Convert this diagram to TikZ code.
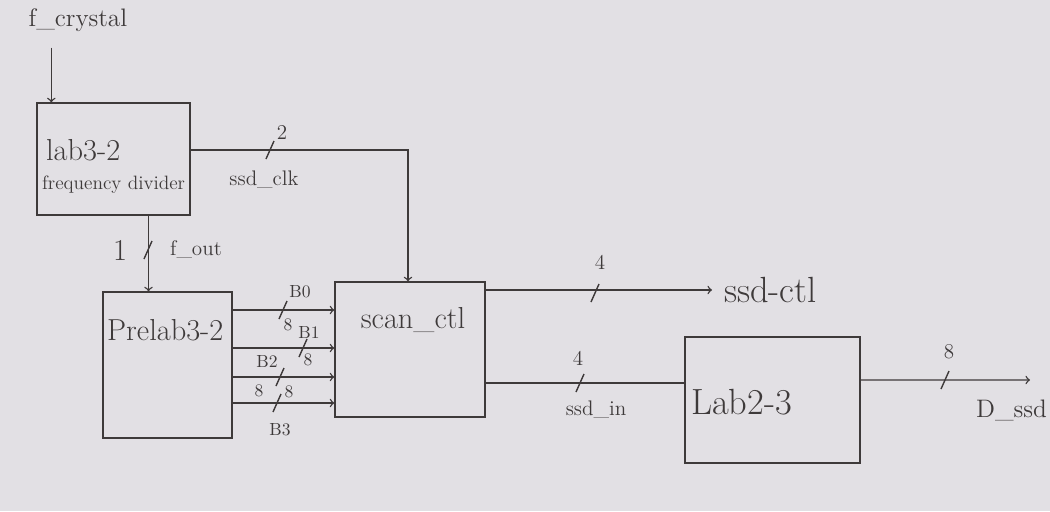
\documentclass[tikz,border=0pt]{standalone}
\usepackage{tikz}
\usetikzlibrary{calc}

\definecolor{paper}{RGB}{226,224,228}
\definecolor{pencil}{RGB}{62,58,58}

\tikzset{
  busmark/.pic={\draw[pencil, thick] (-4,9) -- (4,-9);}
}

\begin{document}
\begin{tikzpicture}[
    x=0.02cm, y=-0.02cm,
    every node/.style={text=pencil},
    block/.style={draw=pencil, thick, inner sep=0pt},
    wire/.style={draw=pencil, thick},
    lbl/.style={font=\normalsize, inner sep=1pt}
]

% paper
\fill[paper] (0,0) rectangle (1050,511);
\useasboundingbox (0,0) rectangle (1050,511);

% Blocks
\node (freqdiv) [block, minimum width=3.06cm, minimum height=2.24cm] at (113.5,159) {};
\node [lbl, font=\LARGE, anchor=west] at (44,150) {lab3-2};
\node [lbl, font=\fontsize{11}{13}\selectfont, anchor=west] at (40,185) {frequency divider};

\node (prelab) [block, minimum width=2.58cm, minimum height=2.92cm] at (167.5,365) {};
\node [lbl, font=\LARGE, anchor=west] at (105,330) {Prelab3-2};

\node (scanctl) [block, minimum width=3.0cm, minimum height=2.7cm] at (410,349.5) {};
\node [lbl, font=\LARGE] at (413,320) {scan\_ctl};

\node (lab23) [block, minimum width=3.5cm, minimum height=2.52cm] at (772.5,400) {};
\node [lbl, font=\huge, anchor=west] at (689,402) {Lab2-3};

% Inputs / outputs
\node (fcrystal) [lbl, font=\Large] at (78,20) {f\_crystal};
\node (ssdctl) [lbl, font=\huge, anchor=west] at (722,290) {ssd-ctl};
\node (dssd) [lbl, font=\Large, anchor=east] at (1049,410) {D\_ssd};

\coordinate (clkin) at ([xshift=0.3cm]freqdiv.north west);
\coordinate (fo) at ([xshift=0.7cm]freqdiv.south);
\coordinate (si) at ([yshift=0.34cm]lab23.west);
\coordinate (dout) at (1030,380);

% Arrows
\draw[wire, ->, shorten <=8pt] (clkin |- fcrystal.south) -- (clkin);
\draw[wire, ->] ([yshift=0.18cm]freqdiv.east) -| ([xshift=-0.04cm]scanctl.north);
\draw[wire, ->] (fo) -- (fo |- prelab.north);
\foreach \dy/\k in {1.1/0, 0.34/1, -0.24/2, -0.76/3}
  \draw[wire, ->] ([yshift=\dy cm]prelab.east) coordinate (b\k) -- (b\k -| scanctl.west);
\draw[wire, ->] (scanctl.east |- ssdctl.west) -- ([xshift=-0.2cm]ssdctl.west);
\draw[wire] (scanctl.east |- si) -- (si);
\draw[wire, ->] ([yshift=0.4cm]lab23.east) -- (dout);

% Bus widths
\pic at (270,150) {busmark};
\node [lbl, font=\large] at (282,132) {2};
\node [lbl, font=\large] at (264,180) {ssd\_clk};

\pic at (148,250) {busmark};
\node [lbl, font=\LARGE] at (120,250) {1};
\node [lbl, font=\large] at (196,250) {f\_out};

\pic at (283,310) {busmark};
\node [lbl] at (300,292) {B0};
\node [lbl] at (288,325) {8};
\pic at (303,348) {busmark};
\node [lbl] at (309,332) {B1};
\node [lbl] at (308,360) {8};
\pic at (280,377) {busmark};
\node [lbl] at (267,361) {B2};
\node [lbl] at (289,392) {8};
\pic at (277,403) {busmark};
\node [lbl] at (259,391) {8};
\node [lbl] at (280,430) {B3};

\pic at (595,293) {busmark};
\node [lbl, font=\large] at (600,262) {4};
\pic at (580,383) {busmark};
\node [lbl, font=\large] at (578,358) {4};
\node [lbl, font=\large] at (596,410) {ssd\_in};

\pic at (945,380) {busmark};
\node [lbl, font=\large] at (949,352) {8};

\end{tikzpicture}
\end{document}
